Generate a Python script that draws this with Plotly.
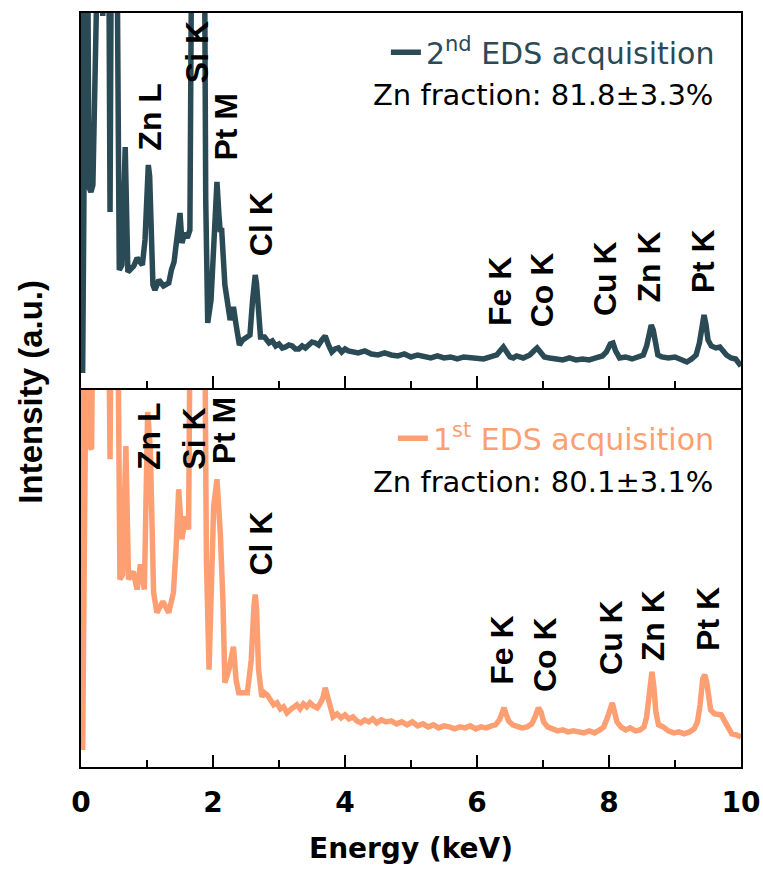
import plotly.graph_objects as go
from plotly.subplots import make_subplots

# ---------------- data (energy in keV, intensity in a.u.) ----------------
OFF = 600  # beyond the visible range (clipped peaks)

energy_2nd = [0.00, 0.025, 0.05, 0.09, 0.12, 0.15, 0.18, 0.22, 0.30, 0.33, 0.36, 0.41, 0.44, 0.47,
              0.53, 0.58, 0.62, 0.67, 0.71, 0.75, 0.80, 0.85, 0.90, 0.93, 0.97, 1.00, 1.02, 1.04,
              1.06, 1.09, 1.12, 1.18, 1.25, 1.33, 1.37, 1.41, 1.45, 1.50, 1.53, 1.57, 1.61, 1.65,
              1.69, 1.86, 1.89, 1.92, 1.97, 2.03, 2.06, 2.09, 2.11, 2.13, 2.18, 2.26, 2.31, 2.35,
              2.40, 2.45, 2.50, 2.56, 2.60, 2.62, 2.64, 2.66, 2.68, 2.72, 2.78, 2.85, 2.90, 2.95,
              3.00, 3.05, 3.10, 3.15, 3.20, 3.25, 3.30, 3.35, 3.40, 3.45, 3.50, 3.55, 3.60, 3.65,
              3.70, 3.75, 3.80, 3.85, 3.90, 3.95, 4.00, 4.05, 4.10, 4.20, 4.30, 4.40, 4.50, 4.60,
              4.70, 4.80, 4.90, 5.00, 5.10, 5.20, 5.30, 5.40, 5.50, 5.60, 5.70, 5.80, 5.90, 6.00,
              6.10, 6.20, 6.30, 6.36, 6.40, 6.45, 6.50, 6.55, 6.60, 6.70, 6.80, 6.86, 6.91, 6.96,
              7.02, 7.10, 7.20, 7.30, 7.40, 7.50, 7.60, 7.70, 7.80, 7.90, 7.96, 8.02, 8.06, 8.10,
              8.16, 8.25, 8.35, 8.45, 8.52, 8.57, 8.61, 8.64, 8.67, 8.70, 8.74, 8.80, 8.90, 9.00,
              9.10, 9.18, 9.25, 9.32, 9.37, 9.41, 9.44, 9.47, 9.50, 9.55, 9.62, 9.68, 9.72, 9.78,
              9.85, 9.92, 10.0]
intensity_2nd = [OFF, 15, OFF, OFF, 201, 196, 203, OFF, OFF, 372, OFF, OFF, 176, OFF,
                 OFF, 118, 123, 241, 116, 118, 122, 130, 126, 123, 148, 210, 223, 212,
                 158, 103, 98, 108, 102, 105, 118, 126, 148, 175, 145, 155, 150, 158,
                 OFF, OFF, 188, 65, 88, 188, 206, 173, 156, 160, 103, 68, 81, 63,
                 43, 48, 50, 53, 88, 106, 113, 104, 83, 51, 51, 45, 47, 42,
                 44, 40, 41, 43, 42, 39, 39, 42, 40, 43, 46, 45, 43, 48,
                 52, 43, 36, 39, 40, 36, 39, 37, 36, 35, 37, 34, 33, 35,
                 33, 32, 34, 31, 33, 31, 30, 32, 30, 31, 29, 31, 30, 30,
                 29, 31, 33, 38, 41, 36, 31, 30, 32, 30, 33, 37, 40, 36,
                 31, 30, 29, 28, 30, 28, 29, 28, 30, 32, 36, 44, 45, 37,
                 30, 31, 29, 31, 33, 42, 56, 63, 58, 44, 33, 31, 30, 31,
                 28, 26, 29, 33, 45, 64, 73, 63, 48, 42, 40, 41, 37, 33,
                 30, 29, 22]

energy_1st = [0.00, 0.025, 0.05, 0.10, 0.13, 0.16, 0.20, 0.40, 0.44, 0.47, 0.54, 0.59, 0.63, 0.68,
              0.72, 0.79, 0.85, 0.90, 0.96, 1.01, 1.05, 1.10, 1.15, 1.20, 1.24, 1.33, 1.40, 1.44,
              1.48, 1.53, 1.58, 1.63, 1.67, 1.86, 1.90, 1.94, 2.01, 2.06, 2.09, 2.11, 2.15, 2.18,
              2.24, 2.31, 2.35, 2.39, 2.52, 2.58, 2.62, 2.64, 2.66, 2.69, 2.74, 2.78, 2.82, 2.87,
              2.92, 2.97, 3.02, 3.07, 3.12, 3.17, 3.22, 3.27, 3.32, 3.37, 3.42, 3.47, 3.52, 3.58,
              3.63, 3.67, 3.70, 3.73, 3.77, 3.82, 3.88, 3.94, 4.00, 4.06, 4.12, 4.18, 4.24, 4.30,
              4.36, 4.42, 4.48, 4.55, 4.62, 4.70, 4.78, 4.86, 4.94, 5.02, 5.10, 5.18, 5.26, 5.34,
              5.42, 5.50, 5.58, 5.66, 5.74, 5.82, 5.90, 5.98, 6.06, 6.14, 6.22, 6.28, 6.34, 6.38,
              6.41, 6.44, 6.48, 6.54, 6.60, 6.68, 6.76, 6.83, 6.88, 6.93, 6.97, 7.01, 7.07, 7.14,
              7.22, 7.30, 7.38, 7.46, 7.54, 7.62, 7.70, 7.78, 7.86, 7.92, 7.97, 8.02, 8.05, 8.08,
              8.12, 8.18, 8.25, 8.32, 8.40, 8.47, 8.53, 8.57, 8.60, 8.63, 8.65, 8.68, 8.71, 8.75,
              8.82, 8.90, 8.98, 9.06, 9.14, 9.22, 9.29, 9.34, 9.38, 9.42, 9.45, 9.48, 9.51, 9.54,
              9.60, 9.66, 9.70, 9.75, 9.80, 9.86, 9.93, 10.0]
intensity_1st = [OFF, 17, OFF, OFF, 320, 317, OFF, OFF, 307, OFF, OFF, 187, 192, 320,
                 187, 195, 177, 202, 177, 354, 317, 174, 154, 162, 165, 154, 174, 217,
                 277, 227, 250, 237, OFF, OFF, 207, 97, 260, 287, 257, 234, 167, 84,
                 97, 120, 87, 74, 74, 107, 160, 172, 158, 97, 70, 74, 72, 66,
                 62, 64, 58, 60, 54, 57, 60, 62, 58, 63, 60, 64, 61, 59,
                 64, 70, 79, 72, 58, 50, 53, 49, 52, 48, 50, 46, 44, 47,
                 45, 48, 44, 47, 45, 46, 43, 45, 42, 45, 41, 43, 40, 42,
                 39, 41, 40, 38, 40, 39, 41, 38, 40, 39, 41, 42, 47, 56,
                 59, 53, 46, 42, 41, 39, 40, 43, 50, 59, 55, 45, 40, 38,
                 36, 37, 35, 36, 35, 34, 36, 34, 37, 40, 48, 60, 64, 56,
                 45, 40, 37, 39, 36, 37, 40, 50, 72, 90, 95, 80, 55, 42,
                 40, 36, 34, 35, 33, 35, 38, 45, 62, 88, 92, 85, 70, 57,
                 53, 52, 52, 46, 40, 33, 32, 30]

# peak labels: (text, energy, intensity) for each panel
labels_2nd = [("Zn L", 1.04, 271), ("Si K", 1.76, 336), ("Pt M", 2.19, 261), ("Cl K", 2.73, 164),
              ("Fe K", 6.35, 96), ("Co K", 6.99, 98), ("Cu K", 7.94, 109), ("Zn K", 8.60, 121),
              ("Pt K", 9.43, 127)]
labels_1st = [("Zn L", 1.03, 330), ("Si K", 1.72, 327), ("Pt M", 2.17, 336), ("Cl K", 2.73, 223),
              ("Fe K", 6.38, 116), ("Co K", 7.02, 112), ("Cu K", 8.02, 129), ("Zn K", 8.66, 141),
              ("Pt K", 9.49, 148)]

name_2nd = "2<sup>nd</sup> EDS acquisition"
name_1st = "1<sup>st</sup> EDS acquisition"
fraction_2nd = "Zn fraction: 81.8±3.3%"
fraction_1st = "Zn fraction: 80.1±3.1%"

x_ticks = [0, 2, 4, 6, 8, 10]

# ---------------- styling ----------------
DARK = "#2a4a56"
ORANGE = "#fd9f73"
BOLD = "Liberation Sans, Arial, sans-serif"
WIDE = "DejaVu Sans, sans-serif"

fig = make_subplots(rows=2, cols=1, shared_xaxes=True, vertical_spacing=0)

fig.add_trace(go.Scatter(x=energy_2nd, y=intensity_2nd, mode="lines", name=name_2nd,
                         line=dict(color=DARK, width=5.5), legend="legend"), row=1, col=1)
fig.add_trace(go.Scatter(x=energy_1st, y=intensity_1st, mode="lines", name=name_1st,
                         line=dict(color=ORANGE, width=5.5), legend="legend2"), row=2, col=1)

annotations = []
for txt, e, i in labels_2nd:
    annotations.append(dict(text=txt, x=e, y=i, xref="x", yref="y", showarrow=False,
                            textangle=-90, xanchor="center", yanchor="middle",
                            font=dict(family=BOLD, size=32, color="black", weight="bold")))
for txt, e, i in labels_1st:
    annotations.append(dict(text=txt, x=e, y=i, xref="x2", yref="y2", showarrow=False,
                            textangle=-90, xanchor="center", yanchor="middle",
                            font=dict(family=BOLD, size=32, color="black", weight="bold")))

annotations += [
    dict(text=fraction_2nd, x=0.960, y=0.891, xref="paper", yref="paper", showarrow=False,
         xanchor="right", yanchor="middle", font=dict(family=WIDE, size=29, color="black")),
    dict(text=fraction_1st, x=0.960, y=0.378, xref="paper", yref="paper", showarrow=False,
         xanchor="right", yanchor="middle", font=dict(family=WIDE, size=29, color="black")),
    dict(text="Intensity (a.u.)", x=-0.077, y=0.498, xref="paper", yref="paper", showarrow=False,
         textangle=-90, xanchor="center", yanchor="middle",
         font=dict(family=BOLD, size=33, color="black", weight="bold")),
    dict(text="Energy (keV)", x=0.5, y=-0.108, xref="paper", yref="paper", showarrow=False,
         xanchor="center", yanchor="middle",
         font=dict(family=WIDE, size=28, color="black", weight="bold")),
]

axis_common = dict(range=[0, 10], showline=True, linecolor="black", linewidth=2, mirror=True,
                   showgrid=False, zeroline=False, ticks="inside", ticklen=12, tickwidth=2,
                   tickcolor="black", tickvals=x_ticks, automargin=False,
                   minor=dict(ticks="inside", ticklen=7, tickwidth=2, tickcolor="black", dtick=1,
                              tick0=0, showgrid=False))

fig.update_layout(
    width=763, height=875,
    autosize=False,
    margin=dict(l=81, r=22, t=13, b=108, autoexpand=False),
    paper_bgcolor="white", plot_bgcolor="white",
    showlegend=True,
    xaxis=dict(**axis_common, showticklabels=False, domain=[0, 1]),
    xaxis2=dict(**axis_common, showticklabels=True, ticklabelstandoff=9,
                tickfont=dict(family=WIDE, size=28, color="black", weight="bold")),
    yaxis=dict(range=[0, 375], domain=[0.5027, 1], showline=True, linecolor="black",
               linewidth=2, mirror=True, showticklabels=False, ticks="", showgrid=False,
               zeroline=False, automargin=False),
    yaxis2=dict(range=[0, 376], domain=[0, 0.5], showline=True, linecolor="black",
                linewidth=2, mirror=True, showticklabels=False, ticks="", showgrid=False,
                zeroline=False, automargin=False),
    legend=dict(x=0.968, y=0.948, xanchor="right", yanchor="middle", bgcolor="rgba(0,0,0,0)",
                font=dict(family=WIDE, size=30, color=DARK)),
    legend2=dict(x=0.968, y=0.436, xanchor="right", yanchor="middle", bgcolor="rgba(0,0,0,0)",
                 font=dict(family=WIDE, size=30, color=ORANGE)),
    annotations=annotations,
)

fig.write_html("out.html")
